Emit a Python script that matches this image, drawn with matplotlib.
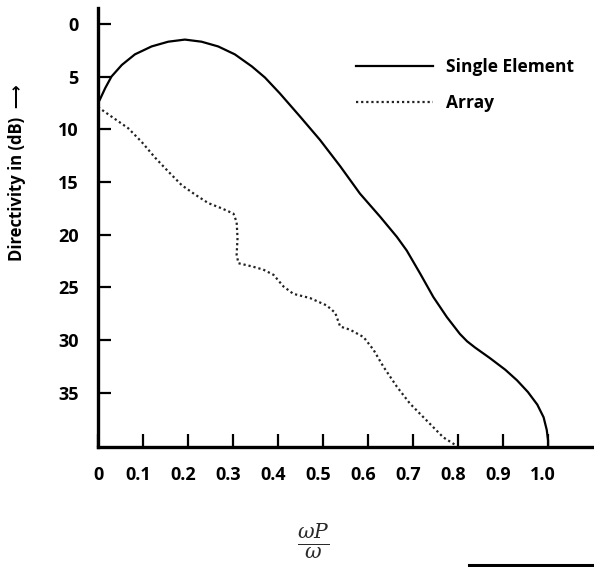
import numpy as np
import matplotlib
matplotlib.use("Agg")
import matplotlib.pyplot as plt
import matplotlib.transforms as mtransforms
from matplotlib.lines import Line2D

plt.rcParams['font.family'] = ['Open Sans', 'DejaVu Sans']
plt.rcParams['mathtext.fontset'] = 'dejavuserif'

# normalised frequency (omega_p / omega) vs directivity (dB, drawn downward)
single_x = [0.0, 0.004, 0.016, 0.030, 0.053, 0.082, 0.119, 0.156, 0.193, 0.230,
            0.267, 0.304, 0.342, 0.371, 0.404, 0.449, 0.493, 0.538, 0.582, 0.627,
            0.664, 0.686, 0.716, 0.745, 0.775, 0.804, 0.82, 0.838, 0.871, 0.905,
            0.931, 0.955, 0.976, 0.99, 0.997, 1.0, 1.0]
single_db = [7.5, 7.2, 6.1, 5.0, 3.9, 2.9, 2.15, 1.7, 1.5, 1.7,
             2.15, 2.9, 4.05, 5.1, 6.6, 8.8, 11.0, 13.5, 16.1, 18.3,
             20.2, 21.5, 23.7, 25.9, 27.8, 29.4, 30.1, 30.7, 31.7, 32.8,
             33.8, 34.9, 36.1, 37.3, 38.5, 39.5, 40.0]

array_x = [0.0, 0.030, 0.067, 0.097, 0.127, 0.156, 0.186, 0.216, 0.245, 0.275,
           0.301, 0.308, 0.310, 0.308, 0.312, 0.342, 0.367, 0.39, 0.412, 0.434,
           0.471, 0.508, 0.527, 0.538, 0.56, 0.590, 0.612, 0.634, 0.664, 0.693,
           0.730, 0.767, 0.793]
array_db = [7.9, 8.8, 9.9, 11.2, 12.7, 14.0, 15.3, 16.2, 17.0, 17.5,
            18.0, 18.8, 20.3, 21.9, 22.7, 23.0, 23.3, 23.8, 24.9, 25.6,
            26.0, 26.7, 27.4, 28.7, 29.0, 29.7, 30.9, 32.5, 34.4, 36.0,
            37.6, 39.2, 39.9]

x_ticks = [0, 0.1, 0.2, 0.3, 0.4, 0.5, 0.6, 0.7, 0.8, 0.9, 1.0]
x_labels = ['0', '0.1', '0.2', '0.3', '0.4', '0.5', '0.6', '0.7', '0.8', '0.9', '1.0']
y_ticks = [0, 5, 10, 15, 20, 25, 30, 35]

fig = plt.figure(figsize=(5.94, 5.67), dpi=100)
ax = fig.add_axes([0.165, 0.212, 0.835, 0.774])

ax.plot(single_x, single_db, color='black', lw=1.6, label='Single Element',
        solid_joinstyle='round')
ax.plot(array_x, array_db, color='#222222', lw=1.6, linestyle=(0, (1, 1.3)),
        label='Array')

ax.set_xlim(0, 1.102)
ax.set_ylim(40.1, -1.5)

for s in ['top', 'right']:
    ax.spines[s].set_visible(False)
for s in ['left', 'bottom']:
    ax.spines[s].set_linewidth(2.4)

ax.set_xticks(x_ticks)
ax.set_xticklabels(x_labels, fontsize=13, fontweight='bold')
ax.set_yticks(y_ticks)
ax.set_yticklabels([str(v) for v in y_ticks], fontsize=13, fontweight='bold')
ax.tick_params(axis='both', direction='in', length=9.5, width=1.6, pad=14)

shift = mtransforms.ScaledTranslation(-0.05, 0, fig.dpi_scale_trans)
for lbl in ax.get_xticklabels()[1:]:
    lbl.set_transform(lbl.get_transform() + shift)

ax.set_ylabel('Directivity in (dB)  \u27f6', fontsize=12, fontweight='bold')
ax.yaxis.set_label_coords(-0.146, 0.625)

fig.text(0.527, 0.046, r'$\frac{\omega P}{\omega}$', fontsize=21,
         color='#2a2a2a', ha='center', va='center')

ax.legend(loc='upper left', bbox_to_anchor=(0.503, 0.905), frameon=False,
          handlelength=4.4, handletextpad=0.8, labelspacing=1.0,
          borderpad=0, prop={'weight': 'bold', 'size': 12.5})

# stray rule at the bottom right of the scanned figure
fig.add_artist(Line2D([0.79, 0.997], [0.004, 0.004], color='black', lw=2.2,
                      transform=fig.transFigure))

fig.savefig('out.png', dpi=100)
